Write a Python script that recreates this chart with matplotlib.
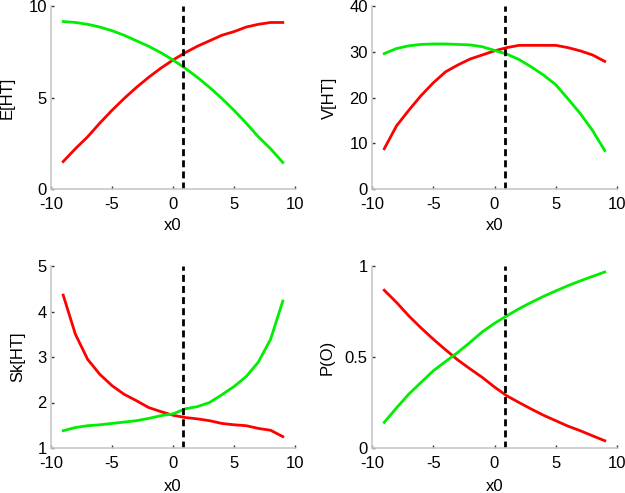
import numpy as np
import matplotlib
matplotlib.use('Agg')
import matplotlib.pyplot as plt

plt.rcParams['font.family'] = ['Liberation Sans', 'DejaVu Sans']

x0 = list(range(-9, 10))
x_cut = 0.85

# E[HT]
e_red = [1.5, 2.2, 2.85, 3.6, 4.3, 4.95, 5.55, 6.1, 6.6, 7.05, 7.45, 7.8, 8.1, 8.4, 8.6, 8.85, 9.0, 9.1, 9.1]
e_green = [9.15, 9.1, 9.0, 8.85, 8.65, 8.4, 8.1, 7.8, 7.45, 7.05, 6.6, 6.1, 5.55, 4.95, 4.3, 3.6, 2.85, 2.2, 1.45]

# V[HT]
v_red = [8.8, 13.8, 17.2, 20.4, 23.2, 25.6, 27.1, 28.4, 29.3, 30.2, 30.9, 31.4, 31.4, 31.4, 31.4, 30.9, 30.2, 29.3, 27.9]
v_green = [29.6, 30.7, 31.3, 31.6, 31.7, 31.7, 31.6, 31.5, 31.1, 30.3, 29.5, 28.3, 26.7, 24.9, 22.8, 19.7, 16.5, 12.8, 8.4]

# Sk[HT]
sk_red = [4.36, 3.5, 2.95, 2.62, 2.37, 2.18, 2.04, 1.89, 1.8, 1.72, 1.67, 1.64, 1.6, 1.54, 1.51, 1.49, 1.43, 1.39, 1.25]
sk_green = [1.38, 1.45, 1.49, 1.51, 1.54, 1.57, 1.6, 1.65, 1.71, 1.75, 1.86, 1.91, 2.0, 2.17, 2.35, 2.57, 2.89, 3.39, 4.23]

# P(O)
p_red = [0.867, 0.80, 0.726, 0.66, 0.598, 0.54, 0.484, 0.435, 0.388, 0.335, 0.287, 0.25, 0.214, 0.18, 0.15, 0.12, 0.095, 0.067, 0.04]
p_green = [0.141, 0.22, 0.296, 0.36, 0.424, 0.475, 0.525, 0.58, 0.638, 0.685, 0.726, 0.765, 0.8, 0.833, 0.863, 0.892, 0.918, 0.943, 0.967]

panels = [
    ('E[HT]', e_red, e_green, (0, 10), [0, 5, 10], ['0', '5', '10']),
    ('V[HT]', v_red, v_green, (0, 40), [0, 10, 20, 30, 40], ['0', '10', '20', '30', '40']),
    ('Sk[HT]', sk_red, sk_green, (1, 5), [1, 2, 3, 4, 5], ['1', '2', '3', '4', '5']),
    ('P(O)', p_red, p_green, (0, 1), [0, 0.5, 1], ['0', '0.5', '1']),
]

W, H = 625, 493
boxes = [(51, 6, 295, 189), (372, 6, 617, 189), (51, 266, 295, 448), (372, 266, 617, 448)]
ylab_x = [-0.148, -0.143, -0.107, -0.151]
xlab_y = [-0.158, -0.158, -0.17, -0.17]

fig = plt.figure(figsize=(6.25, 4.93), dpi=100)
for i, ((ylab, red, green, ylim, yt, ytl), (l, t, r, b)) in enumerate(zip(panels, boxes)):
    ax = fig.add_axes([l / W, 1 - b / H, (r - l) / W, (b - t) / H])
    ax.plot(x0, red, color='#ff0000', lw=2)
    ax.plot(x0, green, color='#00ee00', lw=2)
    ax.axvline(x_cut, color='black', lw=2, ls=(0, (2.5, 1.5)))
    ax.set_xlim(-10, 10)
    ax.set_ylim(*ylim)
    ax.set_xticks([-10, -5, 0, 5, 10])
    ax.set_xticklabels(['-10', '-5', '0', '5', '10'])
    ax.set_yticks(yt)
    ax.set_yticklabels(ytl)
    ax.set_xlabel('x0', fontsize=12)
    ax.set_ylabel(ylab, fontsize=12)
    ax.xaxis.set_label_coords(0.5, xlab_y[i])
    ax.yaxis.set_label_coords(ylab_x[i], 0.5)
    for s in ['top', 'right']:
        ax.spines[s].set_visible(False)
    for s in ['left', 'bottom']:
        ax.spines[s].set_color('#c8c8c8')
        ax.spines[s].set_linewidth(1.2)
    ax.tick_params(direction='in', length=2.5, width=1, color='#333333', labelsize=12)
    ax.tick_params(axis='x', pad=6)
    ax.tick_params(axis='y', pad=3)

fig.savefig('out.png', dpi=100)
